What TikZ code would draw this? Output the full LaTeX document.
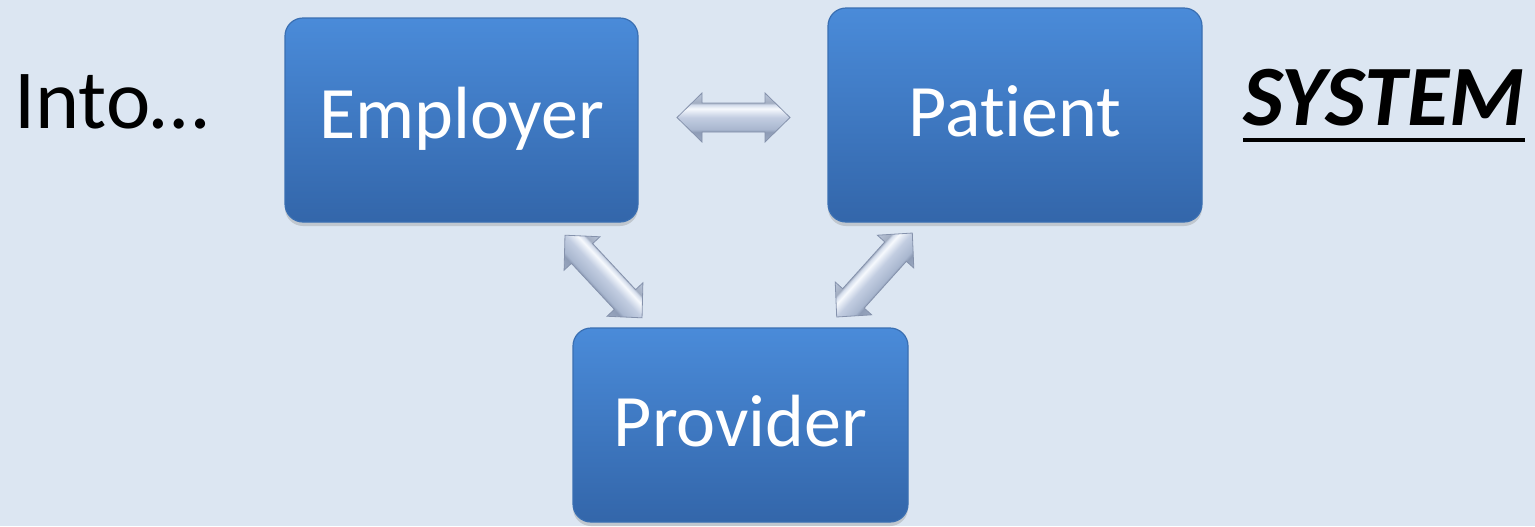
\documentclass[tikz,border=0pt]{standalone}
\usepackage{fontspec}
\setmainfont{Carlito}[Ligatures={NoCommon}]
\usetikzlibrary{shadows}
\definecolor{bg}{HTML}{DCE6F2}
\definecolor{boxtop}{HTML}{4A8BD9}
\definecolor{boxbot}{HTML}{3366AA}
\definecolor{boxedge}{HTML}{3A6FB2}
\definecolor{arredge}{HTML}{8592AC}
\definecolor{aA}{HTML}{8090AA}
\definecolor{aB}{HTML}{9AA8C0}
\definecolor{aC}{HTML}{8E9CB6}
\definecolor{aD}{HTML}{A9B7CF}
\definecolor{aE}{HTML}{C2CDE1}
\definecolor{aF}{HTML}{E4EAF4}
\definecolor{aG}{HTML}{F6F9FD}
\definecolor{aH}{HTML}{D3DCEB}
\definecolor{aI}{HTML}{A3AEC2}
\definecolor{aJ}{HTML}{BAC6DA}
\pgfdeclareverticalshading{arrsh}{100bp}{color(0bp)=(aA); color(25bp)=(aB); color(35bp)=(aC);
  color(38bp)=(aD); color(50bp)=(aE); color(56bp)=(aF); color(59bp)=(aG); color(63bp)=(aH);
  color(65bp)=(aI); color(75bp)=(aJ); color(100bp)=(aJ)}
\tikzset{
  bluebox/.style={draw=boxedge, line width=0.6pt, rounded corners=9pt,
    top color=boxtop, bottom color=boxbot,
    drop shadow={shadow xshift=0pt, shadow yshift=-2pt, opacity=0.3},
    text=white, font=\fontsize{37pt}{42pt}\selectfont,
    text height=23.8pt, inner sep=0pt},
  blockarr/.style={draw=arredge, line width=0.4pt, shading=arrsh},
}
\newcommand\dblblockarrow[2]{% center, rotation
  \begin{scope}[transform canvas={shift={#1}, rotate=#2}]
    \path[blockarr] (-56.5,0) -- (-31.5,-24.5) -- (-31.5,-14.5) -- (31.5,-14.5) -- (31.5,-24.5)
      -- (56.5,0) -- (31.5,24.5) -- (31.5,14.5) -- (-31.5,14.5) -- (-31.5,24.5) -- cycle;
  \end{scope}}
\begin{document}
\begin{tikzpicture}[x=0.5pt, y=-0.5pt]
  \fill[bg] (0,0) rectangle (1535,526);
  \useasboundingbox (0,0) rectangle (1535,526);

  \node[bluebox, text depth=5pt, minimum width=176.5pt, minimum height=102pt] (employer) at (461.5,120) {Employer};
  \node[bluebox, text depth=2.5pt, minimum width=187pt, minimum height=107pt] (patient) at (1015,115) {Patient};
  \node[bluebox, text depth=2pt, minimum width=167.5pt, minimum height=97pt] (provider) at (740.5,425) {Provider};

  \node[anchor=base west, inner sep=0pt, font=\fontsize{42pt}{50pt}\selectfont] (into) at (14,128) {Into…};
  \node[anchor=base west, inner sep=0pt, font=\fontsize{43pt}{50pt}\selectfont\bfseries\itshape] (sys) at (1243,125) {SYSTEM};
  \draw[line width=2pt] ([yshift=-7.5pt]sys.base west) -- ([yshift=-7.5pt]sys.base east);

  \dblblockarrow{(733.5,117.5)}{0}
  \dblblockarrow{(603.5,276.5)}{-47}
  \dblblockarrow{(874.5,275)}{48}
\end{tikzpicture}
\end{document}
